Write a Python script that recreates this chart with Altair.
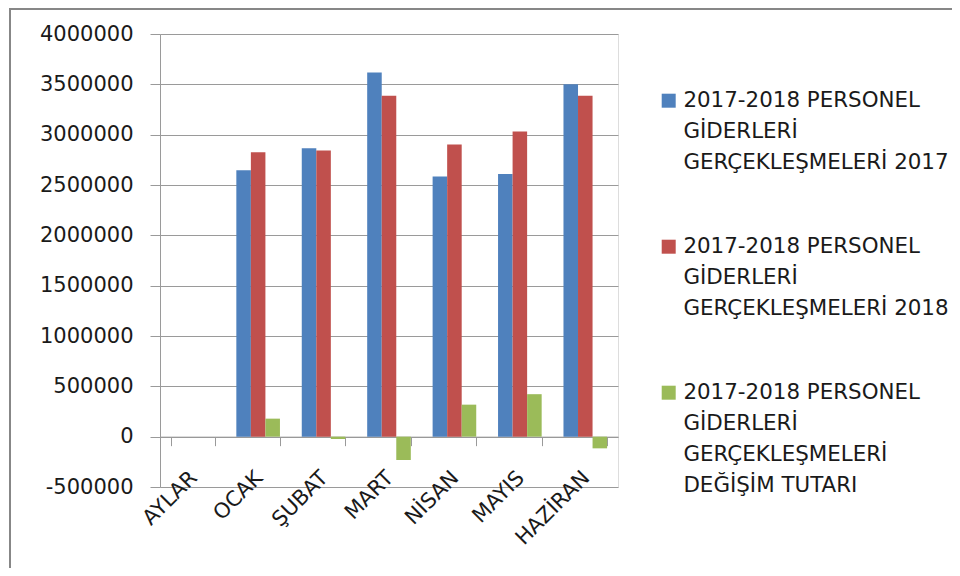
import altair as alt
import pandas as pd

months = ["AYLAR", "OCAK", "ŞUBAT", "MART", "NİSAN", "MAYIS", "HAZİRAN"]
series = [
    "2017-2018 PERSONEL|GİDERLERİ|GERÇEKLEŞMELERİ 2017",
    "2017-2018 PERSONEL|GİDERLERİ|GERÇEKLEŞMELERİ 2018",
    "2017-2018 PERSONEL|GİDERLERİ|GERÇEKLEŞMELERİ|DEĞİŞİM TUTARI",
]
v2017 = [None, 2647000, 2866000, 3618000, 2584000, 2610000, 3502000]
v2018 = [None, 2826000, 2843000, 3386000, 2902000, 3032000, 3386000]
change = [None, 179000, -23000, -232000, 318000, 422000, -116000]
colors = ["#4F81BD", "#C0504D", "#9BBB59"]
y_ticks = [-500000, 0, 500000, 1000000, 1500000, 2000000, 2500000, 3000000, 3500000, 4000000]

rows = []
for s, vals in zip(series, [v2017, v2018, change]):
    for m, v in zip(months, vals):
        rows.append({"ay": m, "seri": s, "deger": v})
df = pd.DataFrame(rows)

FONT = "DejaVu Sans"
GRID = "#9a9a9a"

frame = alt.Chart(pd.DataFrame({"a": [0]})).mark_rect(
    fillOpacity=0, stroke="#878787", strokeWidth=2
).encode(
    x=alt.value(-150), x2=alt.value(1200), y=alt.value(-25), y2=alt.value(900)
)

bars = alt.Chart(df).mark_bar().encode(
    x=alt.X(
        "ay:N",
        sort=months,
        scale=alt.Scale(domain=months, paddingInner=1 / 3, paddingOuter=1 / 6),
        axis=alt.Axis(
            title=None,
            labelAngle=-45,
            labelAlign="right",
            labelBaseline="top",
            labelOffset=-7,
            labelPadding=21,
            tickBand="extent",
            tickSize=9,
            tickColor=GRID,
            domainColor=GRID,
            offset=-50.33,
            labelFontSize=21,
            labelColor="#1a1a1a",
            labelFont=FONT,
            grid=False,
        ),
    ),
    xOffset=alt.XOffset(
        "seri:N", sort=series,
        scale=alt.Scale(domain=series, paddingInner=0, paddingOuter=0),
    ),
    y=alt.Y(
        "deger:Q",
        scale=alt.Scale(domain=[-500000, 4000000], nice=False, zero=False),
        axis=alt.Axis(
            title=None,
            values=y_ticks,
            labelExpr="'' + datum.value",
            tickSize=10,
            tickColor=GRID,
            domainColor=GRID,
            gridColor=GRID,
            labelPadding=17,
            labelFontSize=21,
            labelColor="#1a1a1a",
            labelFont=FONT,
        ),
    ),
    color=alt.Color(
        "seri:N",
        sort=series,
        scale=alt.Scale(domain=series, range=colors),
        legend=alt.Legend(
            title=None,
            orient="none",
            legendX=498,
            legendY=56,
            labelExpr="split(datum.label, '|')",
            symbolType="square",
            symbolSize=196,
            symbolStrokeWidth=0,
            labelFontSize=21.4,
            labelFont=FONT,
            labelColor="#1a1a1a",
            labelOffset=4,
            labelBaseline="middle",
            rowPadding=61,
            labelLimit=500,
            padding=0,
        ),
    ),
)

chart = alt.layer(frame, bars).properties(
    width=458,
    height=453,
    autosize=alt.AutoSizeParams(type="none"),
    padding={"left": 152, "top": 26, "right": 334, "bottom": 81},
).configure_view(stroke="transparent").configure(
    font=FONT,
    style={"guide-label": {"lineHeight": 31}},
)

chart.save("out.html", embed_options={"renderer": "svg", "actions": False})
